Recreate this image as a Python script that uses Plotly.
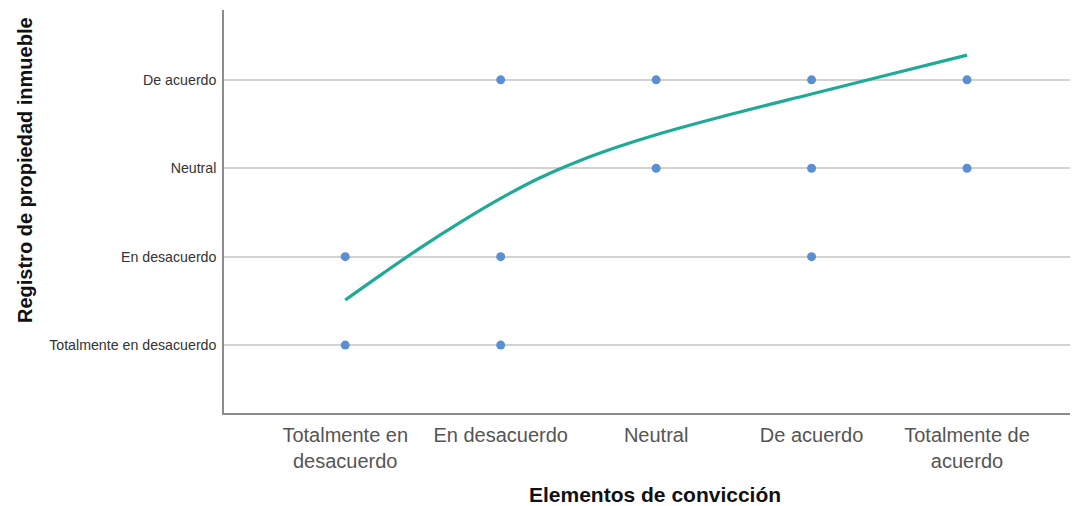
import plotly.graph_objects as go

# Likert categories
x_labels = ["Totalmente en<br>desacuerdo", "En desacuerdo", "Neutral", "De acuerdo", "Totalmente de<br>acuerdo"]
y_labels = ["Totalmente en desacuerdo", "En desacuerdo", "Neutral", "De acuerdo"]

# Observed points (Elementos de convicción, Registro de propiedad inmueble)
pts_x = [1, 1, 2, 2, 2, 3, 3, 4, 4, 4, 5, 5]
pts_y = [2, 1, 4, 2, 1, 4, 3, 4, 3, 2, 4, 3]

# Fitted curve, values
fit_x = [1, 1.25, 1.5, 1.75, 2, 2.25, 2.5, 2.75, 3, 3.5, 4, 4.5, 5]
fit_y = [1.51, 1.82, 2.12, 2.40, 2.66, 2.89, 3.08, 3.24, 3.38, 3.62, 3.84, 4.06, 4.28]

fig = go.Figure()
fig.add_trace(go.Scatter(x=fit_x, y=fit_y, mode="lines", line=dict(color="#1eaa96", width=3.2, shape="spline"),
                         showlegend=False, hoverinfo="skip"))
fig.add_trace(go.Scatter(x=pts_x, y=pts_y, mode="markers", marker=dict(color="#5b8fd4", size=9),
                         showlegend=False))

font = "Liberation Sans, Arial, sans-serif"
fig.update_layout(
    width=1070, height=498,
    margin=dict(l=216, r=0, t=2, b=93),
    plot_bgcolor="white", paper_bgcolor="white",
    font=dict(family=font),
    xaxis=dict(range=[0.22, 5.714], tickmode="array", tickvals=[1, 2, 3, 4, 5], ticktext=x_labels,
               showgrid=False, zeroline=False, showline=True, linecolor="#8c8c8c", linewidth=1.5,
               ticks="", tickfont=dict(size=20, color="#555555", family=font), ticklabelstandoff=3),
    yaxis=dict(range=[0.232, 4.79], tickmode="array", tickvals=[1, 2, 3, 4], ticktext=y_labels,
               showgrid=True, gridcolor="#d2d2d2", gridwidth=1.5, zeroline=False,
               showline=True, linecolor="#8c8c8c", linewidth=1.5,
               ticks="", tickfont=dict(size=14.2, color="#333333", family=font), ticklabelstandoff=3),
    annotations=[
        dict(text="<b>Elementos de convicción</b>", xref="paper", yref="paper",
             x=(655 - 224) / 854, y=-(494 - 413) / 403, xanchor="center", yanchor="middle",
             showarrow=False, font=dict(size=21, color="#111111", family=font)),
        dict(text="<b>Registro de propiedad inmueble</b>", xref="paper", yref="paper",
             x=(25 - 224) / 854, y=(413 - 170) / 403, xanchor="center", yanchor="middle",
             textangle=-90, showarrow=False, font=dict(size=20, color="#111111", family=font)),
    ],
)

fig.write_html("out.html")
